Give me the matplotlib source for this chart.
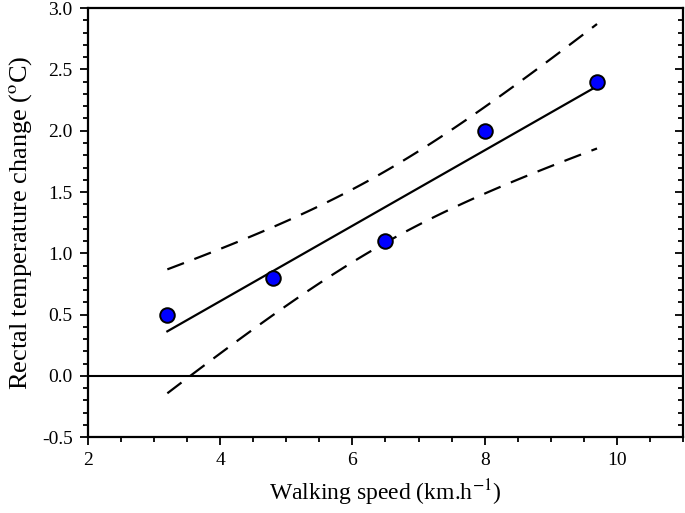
import numpy as np
import matplotlib.pyplot as plt
from matplotlib.ticker import MultipleLocator

# Data
speed = np.array([3.2, 4.8, 6.5, 8.0, 9.7])
temp_change = np.array([0.5, 0.8, 1.1, 2.0, 2.4])

plt.rcParams['font.family'] = ['Liberation Serif', 'DejaVu Serif']
plt.rcParams['mathtext.fontset'] = 'stix'

# Linear regression with 95% confidence band of the mean
slope, intercept = np.polyfit(speed, temp_change, 1)
n = len(speed)
resid = temp_change - (slope * speed + intercept)
s = np.sqrt(np.sum(resid ** 2) / (n - 2))
sxx = np.sum((speed - speed.mean()) ** 2)
t_crit = 3.182  # t(0.975, df=3)
xfit = np.linspace(speed.min(), speed.max(), 100)
yfit = slope * xfit + intercept
half = t_crit * s * np.sqrt(1.0 / n + (xfit - speed.mean()) ** 2 / sxx)

fig = plt.figure(figsize=(6.85, 5.13), dpi=100)
ax = fig.add_axes([0.1285, 0.148, 0.8685, 0.836])

ax.axhline(0, color='black', lw=1.5, zorder=1)
ax.plot(xfit, yfit, color='black', lw=1.6, zorder=2)
ax.plot(xfit, yfit + half, color='black', lw=1.6, dashes=(8, 5), zorder=2)
ax.plot(xfit, yfit - half, color='black', lw=1.6, dashes=(8, 5), zorder=2)
ax.plot(speed, temp_change, 'o', ms=10.5, mfc='#0000ff', mec='black', mew=1.4, zorder=3)

ax.set_xlim(2, 11)
ax.set_ylim(-0.5, 3.0)
ax.xaxis.set_major_locator(MultipleLocator(2))
ax.xaxis.set_minor_locator(MultipleLocator(0.5))
ax.yaxis.set_major_locator(MultipleLocator(0.5))
ax.yaxis.set_minor_locator(MultipleLocator(0.1))
ax.set_yticks(np.arange(-0.5, 3.01, 0.5))
ax.set_yticklabels([f'{v:.1f}' for v in np.arange(-0.5, 3.01, 0.5)])
ax.set_xticks([2, 4, 6, 8, 10])

ax.tick_params(which='both', direction='out', top=False, right=True, width=1.3, labelsize=14)
ax.tick_params(which='major', length=6, pad=5)
ax.tick_params(which='minor', length=3.5)
# right side ticks point inward
for t in ax.yaxis.get_major_ticks() + ax.yaxis.get_minor_ticks():
    t.tick2line.set_marker(0)
for sp in ax.spines.values():
    sp.set_linewidth(1.6)

ax.set_xlabel('Walking speed (km.h$^{-1}$)', fontsize=17, labelpad=6)
ax.set_ylabel('Rectal temperature change ($^{\\mathrm{o}}$C)', fontsize=19, labelpad=6)

fig.savefig('out.png', dpi=100)
